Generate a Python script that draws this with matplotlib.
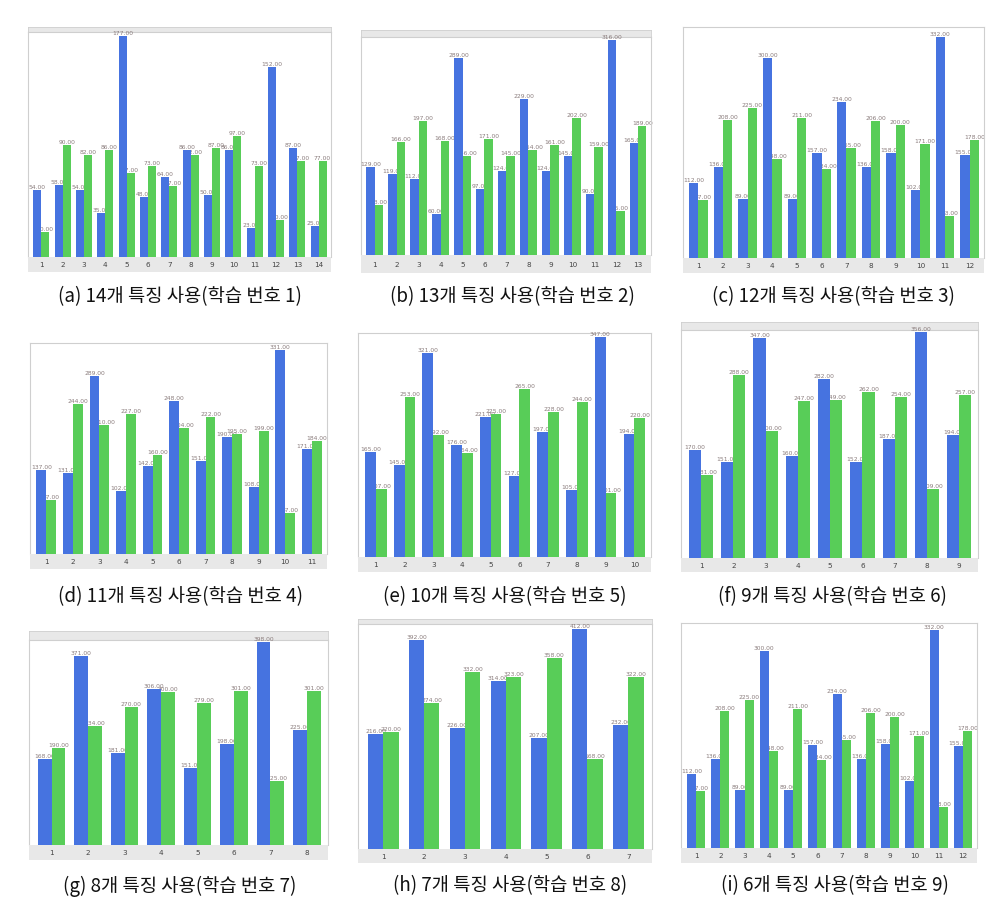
import numpy as np
import matplotlib
matplotlib.use('Agg')
import matplotlib.pyplot as plt
from matplotlib.transforms import blended_transform_factory

plt.rcParams['font.family'] = ['Noto Sans CJK KR', 'DejaVu Sans']

W, H = 992, 919

# ---------------- data ----------------
a_blue = [54, 58, 54, 35, 177, 48, 64, 86, 50, 86, 23, 152, 87, 25]
a_green = [20, 90, 82, 86, 67, 73, 57, 82, 87, 97, 73, 30, 77, 77]

b_blue = [129, 119, 112, 60, 289, 97, 124, 229, 124, 145, 90, 316, 165]
b_green = [73, 166, 197, 168, 146, 171, 145, 154, 161, 202, 159, 65, 189]

c_blue = [112, 136, 89, 300, 89, 157, 234, 136, 158, 102, 332, 155]
c_green = [87, 208, 225, 148, 211, 134, 165, 206, 200, 171, 63, 178]

d_blue = [137, 131, 289, 102, 142, 248, 151, 190, 108, 331, 171]
d_green = [87, 244, 210, 227, 160, 204, 222, 195, 199, 67, 184]

e_blue = [165, 145, 321, 176, 221, 127, 197, 105, 347, 194]
e_green = [107, 253, 192, 164, 225, 265, 228, 244, 101, 220]

f_blue = [170, 151, 347, 160, 282, 152, 187, 356, 194]
f_green = [131, 288, 200, 247, 249, 262, 254, 109, 257]

g_blue = [168, 371, 181, 306, 151, 198, 398, 225]
g_green = [190, 234, 270, 300, 279, 301, 125, 301]

h_blue = [216, 392, 226, 314, 207, 412, 232]
h_green = [220, 274, 332, 323, 358, 168, 322]

i_blue = [112, 136, 89, 300, 89, 157, 234, 136, 158, 102, 332, 155]
i_green = [87, 208, 225, 148, 211, 134, 165, 206, 200, 171, 63, 178]

captions = [
    "(a) 14개 특징 사용(학습 번호 1)",
    "(b) 13개 특징 사용(학습 번호 2)",
    "(c) 12개 특징 사용(학습 번호 3)",
    "(d) 11개 특징 사용(학습 번호 4)",
    "(e) 10개 특징 사용(학습 번호 5)",
    "(f) 9개 특징 사용(학습 번호 6)",
    "(g) 8개 특징 사용(학습 번호 7)",
    "(h) 7개 특징 사용(학습 번호 8)",
    "(i) 6개 특징 사용(학습 번호 9)",
]

series = [(a_blue, a_green), (b_blue, b_green), (c_blue, c_green),
          (d_blue, d_green), (e_blue, e_green), (f_blue, f_green),
          (g_blue, g_green), (h_blue, h_green), (i_blue, i_green)]

# ---------------- layout (pixels) ----------------
# left, right, plot top, bars bottom, axis-band bottom, header top, pixel of tallest bar top
geom = [
    (28, 331, 32, 257, 272, 27, 36),
    (361, 651, 37, 255, 273, 30, 40),
    (683, 984, 27, 258, 273, 27, 37),
    (30, 327, 343, 554, 569, 343, 350),
    (358, 651, 333, 557, 572, 333, 337),
    (681, 978, 330, 558, 572, 322, 332),
    (29, 328, 640, 845, 860, 631, 642),
    (358, 652, 624, 849, 863, 619, 629),
    (681, 977, 623, 848, 863, 623, 630),
]
cap_pos = [(180, 297), (512, 297), (833, 297),
           (180, 597), (505, 597), (832, 597),
           (180, 886), (510, 886), (835, 886)]

BLUE = '#4673E0'
GREEN = '#58CD58'
LBL = '#8a7c7c'
BAND = '#e8e8e8'
EDGE = '#cfcfcf'

fig = plt.figure(figsize=(W / 100, H / 100), dpi=100)
fig.patch.set_facecolor('white')

w = 0.375
for k, ((blue, green), g) in enumerate(zip(series, geom)):
    L, R, T, B, BB, HT, MP = g
    n = len(blue)
    x = np.arange(n)
    vmax = max(max(blue), max(green))
    ymax = vmax * (B - T) / (B - MP)

    # header band
    if T - HT > 1:
        hax = fig.add_axes([L / W, 1 - T / H, (R - L) / W, (T - HT) / H])
        hax.set_facecolor(BAND)
        hax.set_xticks([]); hax.set_yticks([])
        for s in hax.spines.values():
            s.set_color(EDGE); s.set_linewidth(0.6)

    ax = fig.add_axes([L / W, 1 - B / H, (R - L) / W, (B - T) / H])
    ax.set_xlim(-0.62, n - 0.42)
    ax.set_ylim(0, ymax)
    ax.bar(x - w / 2, blue, w, color=BLUE, zorder=2)
    ax.bar(x + w / 2, green, w, color=GREEN, zorder=4)
    for xi, v in zip(x, blue):
        ax.text(xi - w / 2, v, f"{v:.2f}", ha='center', va='bottom',
                fontsize=4.3, color=LBL, zorder=3, clip_on=False,
                family='DejaVu Sans')
    for xi, v in zip(x, green):
        ax.text(xi + w / 2, v, f"{v:.2f}", ha='center', va='bottom',
                fontsize=4.3, color=LBL, zorder=1, clip_on=False,
                family='DejaVu Sans')
    ax.set_xticks([]); ax.set_yticks([])
    for name, s in ax.spines.items():
        s.set_color(EDGE); s.set_linewidth(0.8)
    ax.spines['bottom'].set_visible(False)

    # x-axis band
    bax = fig.add_axes([L / W, 1 - BB / H, (R - L) / W, (BB - B) / H])
    bax.set_facecolor(BAND)
    bax.set_xlim(ax.get_xlim()); bax.set_ylim(0, 1)
    bax.set_xticks([]); bax.set_yticks([])
    for s in bax.spines.values():
        s.set_visible(False)
    ticklabels = [str(i + 1) for i in range(n)]
    tr = blended_transform_factory(bax.transData, bax.transAxes)
    for xi, t in zip(x, ticklabels):
        bax.text(xi, 0.45, t, ha='center', va='center', fontsize=5.2,
                 color='#444444', transform=tr, family='DejaVu Sans')

    cx, cy = cap_pos[k]
    fig.text(cx / W, 1 - cy / H, captions[k], ha='center', va='center',
             fontsize=13.5, color='#111111')

fig.savefig('out.png', dpi=100, facecolor='white')
